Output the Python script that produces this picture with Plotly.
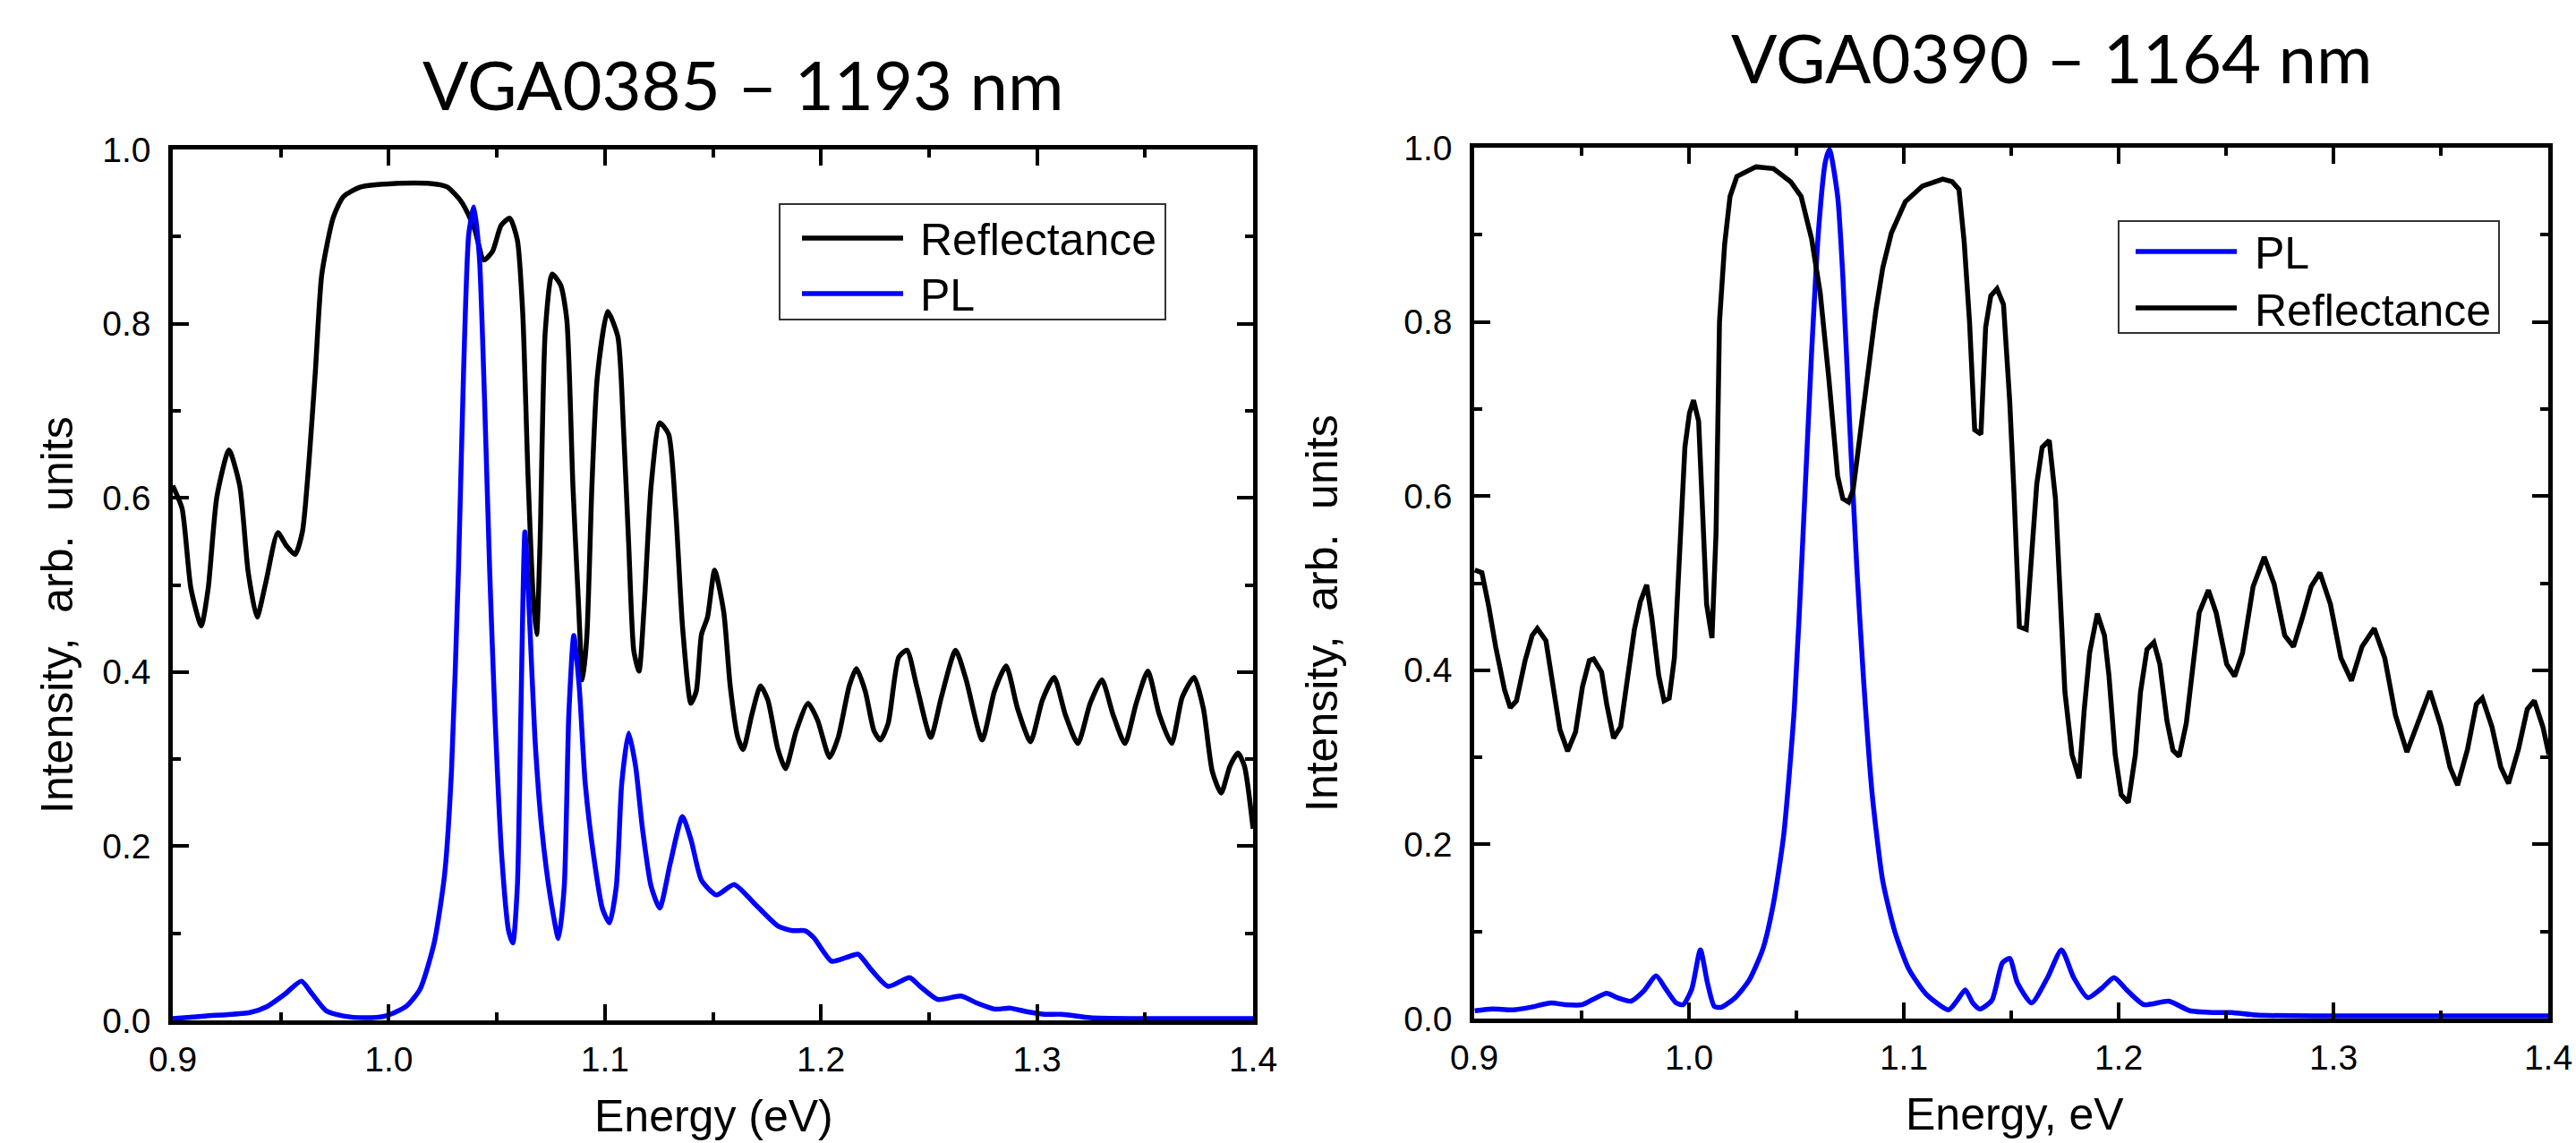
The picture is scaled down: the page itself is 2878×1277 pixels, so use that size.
import plotly.graph_objects as go

# ---------------- data ----------------
# Left panel: VGA0385
left_refl_E = [0.900, 0.9043, 0.9084, 0.9132, 0.9164, 0.9204, 0.926, 0.931, 0.9349, 0.939, 0.943, 0.9486,
               0.9526, 0.9566, 0.960, 0.963, 0.966, 0.969, 0.9743, 0.979, 0.987, 1.003, 1.019, 1.027, 1.033,
               1.038, 1.040, 1.044, 1.048, 1.052, 1.056, 1.0595, 1.062, 1.0644, 1.0669, 1.0684, 1.070, 1.0724,
               1.0756, 1.0796, 1.0824, 1.0852, 1.0877, 1.0897, 1.0917, 1.094, 1.0965, 1.1013, 1.106, 1.1086,
               1.111, 1.1134, 1.1158, 1.1182, 1.1214, 1.1254, 1.1295, 1.1327, 1.136, 1.1398, 1.1423, 1.1447,
               1.1475, 1.1508, 1.155, 1.158, 1.1615, 1.164, 1.168, 1.172, 1.1754, 1.180, 1.1836, 1.1885, 1.194,
               1.1984, 1.204, 1.208, 1.2131, 1.2164, 1.2205, 1.2246, 1.2275, 1.2311, 1.236, 1.2398, 1.2443,
               1.2508, 1.2557, 1.2623, 1.2672, 1.2746, 1.2803, 1.2857, 1.291, 1.297, 1.3025, 1.3079, 1.3131,
               1.3189, 1.3246, 1.330, 1.3352, 1.3407, 1.3459, 1.3513, 1.3566, 1.3623, 1.3672, 1.3727, 1.377,
               1.3811, 1.3852, 1.3893, 1.393, 1.396, 1.400]
left_refl_I = [0.614, 0.588, 0.496, 0.453, 0.496, 0.601, 0.655, 0.614, 0.515, 0.463, 0.502, 0.560,
               0.545, 0.535, 0.561, 0.640, 0.745, 0.857, 0.922, 0.946, 0.957, 0.961, 0.961, 0.957, 0.942,
               0.919, 0.906, 0.873, 0.883, 0.913, 0.921, 0.896, 0.811, 0.627, 0.483, 0.443, 0.548, 0.791,
               0.857, 0.844, 0.804, 0.614, 0.483, 0.391, 0.443, 0.614, 0.739, 0.814, 0.785, 0.680,
               0.548, 0.424, 0.401, 0.476, 0.614, 0.686, 0.673, 0.588, 0.450, 0.364, 0.378, 0.443,
               0.463, 0.517, 0.469, 0.384, 0.325, 0.311, 0.351, 0.384, 0.368, 0.312, 0.289, 0.332, 0.364,
               0.345, 0.302, 0.325, 0.384, 0.404, 0.378, 0.332, 0.322, 0.341, 0.417, 0.425, 0.384,
               0.325, 0.371, 0.425, 0.391, 0.322, 0.378, 0.407, 0.358, 0.320, 0.368, 0.394, 0.351,
               0.318, 0.364, 0.391, 0.351, 0.318, 0.364, 0.401, 0.351, 0.318, 0.371, 0.394, 0.358,
               0.286, 0.261, 0.292, 0.307, 0.292, 0.220]

left_pl_E = [0.900, 0.9148, 0.9357, 0.9437, 0.9518, 0.9595, 0.9646, 0.971, 0.979, 0.9888, 0.9984, 1.008,
             1.0145, 1.021, 1.0258, 1.029, 1.0322, 1.0346, 1.037, 1.0394, 1.0419, 1.0443, 1.0467, 1.0491,
             1.0523, 1.0555, 1.0574, 1.0595, 1.0611, 1.063, 1.0651, 1.0676, 1.0708, 1.0748, 1.0785, 1.0812,
             1.0833, 1.0856, 1.0881, 1.0909, 1.0949, 1.0989, 1.1021, 1.1053, 1.1078, 1.111, 1.1142, 1.1174,
             1.1214, 1.1254, 1.1303, 1.1359, 1.1399, 1.1447, 1.1516, 1.1598, 1.1689, 1.1803, 1.1869, 1.1926,
             1.1967, 1.2049, 1.2115, 1.2172, 1.223, 1.2311, 1.241, 1.2459, 1.2541, 1.2648, 1.2721, 1.2803,
             1.2877, 1.2951, 1.3033, 1.3115, 1.3246, 1.3443, 1.400]
left_pl_I = [0.002, 0.005, 0.009, 0.016, 0.030, 0.045, 0.030, 0.011, 0.005, 0.003, 0.005, 0.016,
             0.036, 0.089, 0.167, 0.286, 0.515, 0.745, 0.903, 0.934, 0.877, 0.713, 0.515, 0.351,
             0.187, 0.102, 0.089, 0.154, 0.351, 0.561, 0.463, 0.325, 0.220, 0.141, 0.094, 0.154,
             0.351, 0.442, 0.384, 0.272, 0.187, 0.128, 0.112, 0.154, 0.272, 0.330, 0.292, 0.220,
             0.154, 0.129, 0.181, 0.234, 0.207, 0.161, 0.144, 0.156, 0.135, 0.108, 0.103, 0.103,
             0.095, 0.068, 0.072, 0.076, 0.059, 0.039, 0.049, 0.039, 0.024, 0.028, 0.020, 0.013,
             0.014, 0.010, 0.007, 0.007, 0.003, 0.002, 0.002]

# Right panel: VGA0390
right_refl_E = [0.9003, 0.9036, 0.9068, 0.910, 0.9141, 0.9168, 0.9197, 0.9237, 0.927, 0.9294, 0.9334, 0.9367,
                0.9399, 0.9435, 0.9472, 0.9504, 0.9536, 0.9556, 0.9593, 0.9617, 0.9649, 0.9682, 0.9714,
                0.9746, 0.9774, 0.9803, 0.9827, 0.9859, 0.9884, 0.9908, 0.9932, 0.9956, 0.9981, 1.0002,
                1.0021, 1.0045, 1.0061, 1.0082, 1.0107, 1.0126, 1.0142, 1.0166, 1.0191, 1.0223, 1.0312,
                1.0393, 1.0473, 1.0522, 1.0571, 1.0611, 1.0651, 1.0692, 1.0716, 1.0743, 1.0764, 1.0805,
                1.0837, 1.087, 1.0902, 1.0942, 1.1007, 1.1087, 1.1181, 1.1225, 1.1257, 1.1281, 1.1306,
                1.133, 1.1359, 1.1381, 1.1405, 1.1434, 1.1464, 1.1493, 1.1513, 1.1538, 1.157, 1.1595,
                1.1619, 1.1644, 1.1677, 1.1706, 1.1726, 1.175, 1.1783, 1.1816, 1.184, 1.1865, 1.1901,
                1.1934, 1.1955, 1.1984, 1.2012, 1.2045, 1.2078, 1.2102, 1.2132, 1.2164, 1.2192, 1.2225,
                1.2253, 1.2282, 1.2315, 1.2347, 1.2375, 1.2418, 1.2454, 1.2503, 1.254, 1.2577, 1.2626,
                1.2678, 1.2724, 1.2773, 1.2814, 1.2855, 1.2896, 1.2937, 1.2986, 1.3035, 1.3084, 1.3133,
                1.319, 1.3239, 1.3289, 1.3342, 1.3395, 1.3449, 1.3501, 1.3542, 1.3578, 1.3624, 1.3665,
                1.3693, 1.3738, 1.3779, 1.3815, 1.3861, 1.3902, 1.3935, 1.3975, 1.4003]
right_refl_I = [0.515, 0.512, 0.473, 0.427, 0.378, 0.357, 0.365, 0.411, 0.440, 0.448, 0.434, 0.381,
                0.332, 0.307, 0.329, 0.381, 0.411, 0.413, 0.398, 0.361, 0.322, 0.335, 0.394,
                0.447, 0.479, 0.498, 0.460, 0.394, 0.365, 0.368, 0.414, 0.538, 0.656, 0.695,
                0.710, 0.686, 0.604, 0.476, 0.437, 0.558, 0.800, 0.889, 0.944, 0.967, 0.978,
                0.976, 0.961, 0.944, 0.895, 0.833, 0.735, 0.623, 0.597, 0.593, 0.607, 0.689,
                0.748, 0.813, 0.862, 0.902, 0.938, 0.956, 0.964, 0.961, 0.952, 0.892, 0.800,
                0.676, 0.671, 0.794, 0.830, 0.838, 0.820, 0.709, 0.604, 0.450, 0.447, 0.525,
                0.614, 0.656, 0.664, 0.597, 0.506, 0.375, 0.303, 0.276, 0.355, 0.420, 0.465,
                0.440, 0.394, 0.303, 0.257, 0.248, 0.303, 0.375, 0.424, 0.432, 0.407, 0.342,
                0.308, 0.301, 0.339, 0.407, 0.466, 0.492, 0.466, 0.407, 0.393, 0.420, 0.496,
                0.530, 0.499, 0.440, 0.427, 0.460, 0.496, 0.512, 0.476, 0.414, 0.388, 0.427,
                0.448, 0.414, 0.348, 0.306, 0.342, 0.376, 0.335, 0.289, 0.268, 0.309, 0.361,
                0.368, 0.335, 0.289, 0.270, 0.309, 0.355, 0.365, 0.335, 0.303]

right_pl_E = [0.9003, 0.9084, 0.9181, 0.9262, 0.9359, 0.9423, 0.9504, 0.9553, 0.9617, 0.9666, 0.973, 0.9787,
              0.9847, 0.9892, 0.994, 0.9973, 1.0013, 1.0053, 1.0086, 1.0118, 1.015, 1.0215, 1.028, 1.0344,
              1.0393, 1.0441, 1.049, 1.053, 1.057, 1.0603, 1.0635, 1.0654, 1.0692, 1.0716, 1.0748, 1.0781,
              1.0813, 1.0853, 1.0902, 1.0958, 1.1023, 1.1104, 1.1208, 1.1249, 1.1286, 1.1321, 1.1354, 1.141,
              1.1459, 1.1493, 1.1529, 1.1595, 1.1669, 1.1734, 1.1791, 1.1857, 1.1922, 1.1979, 1.2037,
              1.2118, 1.2233, 1.2331, 1.2446, 1.2527, 1.2642, 1.2937, 1.400]
right_pl_I = [0.009, 0.011, 0.010, 0.013, 0.018, 0.016, 0.016, 0.022, 0.029, 0.024, 0.020, 0.031,
              0.049, 0.034, 0.018, 0.016, 0.034, 0.079, 0.041, 0.014, 0.013, 0.024, 0.044, 0.080,
              0.132, 0.211, 0.355, 0.551, 0.761, 0.905, 0.984, 0.998, 0.944, 0.853, 0.682, 0.519,
              0.388, 0.257, 0.158, 0.100, 0.057, 0.028, 0.010, 0.021, 0.033, 0.018, 0.011, 0.021,
              0.064, 0.069, 0.041, 0.018, 0.047, 0.079, 0.047, 0.024, 0.035, 0.047, 0.033,
              0.016, 0.020, 0.009, 0.007, 0.007, 0.004, 0.003, 0.003]

x_tick_vals = [0.9, 1.0, 1.1, 1.2, 1.3, 1.4]
x_tick_text = ["0.9", "1.0", "1.1", "1.2", "1.3", "1.4"]
y_tick_vals = [0.0, 0.2, 0.4, 0.6, 0.8, 1.0]
y_tick_text = ["0.0", "0.2", "0.4", "0.6", "0.8", "1.0"]

titles = ["VGA0385 \u2013 1193 nm", "VGA0390 \u2013 1164 nm"]
x_titles = ["Energy (eV)", "Energy, eV"]
y_title = "Intensity,  arb.  units"

# ---------------- figure ----------------
W, H = 2878, 1277
BLUE = "#0000FF"
BLACK = "#000000"
ARIAL = "Liberation Sans, Arial, sans-serif"
TITLE_FONT = "Lato, Carlito, Calibri, sans-serif"
LW = 5.5


def px_x(p):
    return p / W


def px_y(p):
    return 1 - p / H


fig = go.Figure()

fig.add_trace(go.Scatter(x=left_refl_E, y=left_refl_I, mode="lines", name="Reflectance",
                         line=dict(color=BLACK, width=LW, shape="spline", smoothing=0.6),
                         xaxis="x", yaxis="y", showlegend=False))
fig.add_trace(go.Scatter(x=left_pl_E, y=left_pl_I, mode="lines", name="PL",
                         line=dict(color=BLUE, width=LW, shape="spline", smoothing=0.6),
                         xaxis="x", yaxis="y", showlegend=False))
fig.add_trace(go.Scatter(x=right_pl_E, y=right_pl_I, mode="lines", name="PL",
                         line=dict(color=BLUE, width=LW, shape="spline", smoothing=0.6),
                         xaxis="x2", yaxis="y2", showlegend=False))
fig.add_trace(go.Scatter(x=right_refl_E, y=right_refl_I, mode="lines", name="Reflectance",
                         line=dict(color=BLACK, width=LW),
                         xaxis="x2", yaxis="y2", showlegend=False))


def xaxis_cfg(domain, anchor):
    return dict(domain=domain, anchor=anchor, range=[0.9, 1.4], automargin=False,
                tickmode="array", tickvals=x_tick_vals, ticktext=x_tick_text,
                ticks="inside", ticklen=18, tickwidth=4, tickcolor=BLACK,
                minor=dict(dtick=0.05, tick0=0.9, ticks="inside", ticklen=9, tickwidth=4, tickcolor=BLACK),
                showline=True, linewidth=4.5, linecolor=BLACK, mirror="ticks",
                showgrid=False, zeroline=False, ticklabelstandoff=5, ticklabeloverflow="allow",
                tickfont=dict(family=ARIAL, size=39, color=BLACK))


def yaxis_cfg(domain, anchor):
    return dict(domain=domain, anchor=anchor, range=[0, 1], automargin=False,
                tickmode="array", tickvals=y_tick_vals, ticktext=y_tick_text,
                ticks="inside", ticklen=18, tickwidth=4, tickcolor=BLACK,
                minor=dict(dtick=0.1, tick0=0, ticks="inside", ticklen=9, tickwidth=4, tickcolor=BLACK),
                showline=True, linewidth=4.5, linecolor=BLACK, mirror="ticks",
                showgrid=False, zeroline=False, ticklabelstandoff=12, ticklabeloverflow="allow",
                tickfont=dict(family=ARIAL, size=39, color=BLACK))


fig.update_layout(
    template="none",
    width=W, height=H, autosize=False,
    margin=dict(l=0, r=0, t=0, b=0, pad=0),
    paper_bgcolor="white", plot_bgcolor="white",
    showlegend=False,
    xaxis=xaxis_cfg([px_x(193), px_x(1400)], "y"),
    yaxis=yaxis_cfg([px_y(1140), px_y(167)], "x"),
    xaxis2=xaxis_cfg([px_x(1647), px_x(2847)], "y2"),
    yaxis2=yaxis_cfg([px_y(1138), px_y(165)], "x2"),
)

annotations = []
# panel titles
annotations.append(dict(text=titles[0], x=px_x(830), y=px_y(93), xref="paper", yref="paper",
                        xanchor="center", yanchor="middle", showarrow=False,
                        font=dict(family=TITLE_FONT, size=76, color=BLACK)))
annotations.append(dict(text=titles[1], x=px_x(2292), y=px_y(64), xref="paper", yref="paper",
                        xanchor="center", yanchor="middle", showarrow=False,
                        font=dict(family=TITLE_FONT, size=76, color=BLACK)))
# axis titles
annotations.append(dict(text=x_titles[0], x=px_x(797), y=px_y(1247), xref="paper", yref="paper",
                        xanchor="center", yanchor="middle", showarrow=False,
                        font=dict(family=ARIAL, size=50, color=BLACK)))
annotations.append(dict(text=x_titles[1], x=px_x(2251), y=px_y(1245), xref="paper", yref="paper",
                        xanchor="center", yanchor="middle", showarrow=False,
                        font=dict(family=ARIAL, size=50, color=BLACK)))
annotations.append(dict(text=y_title, x=px_x(64), y=px_y(687), xref="paper", yref="paper",
                        xanchor="center", yanchor="middle", showarrow=False, textangle=-90,
                        font=dict(family=ARIAL, size=50, color=BLACK)))
annotations.append(dict(text=y_title, x=px_x(1477), y=px_y(685), xref="paper", yref="paper",
                        xanchor="center", yanchor="middle", showarrow=False, textangle=-90,
                        font=dict(family=ARIAL, size=50, color=BLACK)))

# legends (drawn as boxes with sample lines and labels)
shapes = []
legends = [
    dict(box=(871, 228, 1302, 357), line_x=(896, 1009), text_x=1026,
         items=[("Reflectance", BLACK, 266, 268), ("PL", BLUE, 328, 330)]),
    dict(box=(2367, 247, 2792, 372), line_x=(2386, 2499), text_x=2517,
         items=[("PL", BLUE, 281, 283), ("Reflectance", BLACK, 344, 347)]),
]
for lg in legends:
    x0, y0, x1, y1 = lg["box"]
    shapes.append(dict(type="rect", xref="paper", yref="paper",
                       x0=px_x(x0), x1=px_x(x1), y0=px_y(y1), y1=px_y(y0),
                       line=dict(color="#333333", width=2), fillcolor="white", layer="above"))
    for label, col, ly, ty in lg["items"]:
        shapes.append(dict(type="line", xref="paper", yref="paper",
                           x0=px_x(lg["line_x"][0]), x1=px_x(lg["line_x"][1]),
                           y0=px_y(ly), y1=px_y(ly), line=dict(color=col, width=LW), layer="above"))
        annotations.append(dict(text=label, x=px_x(lg["text_x"]), y=px_y(ty), xref="paper", yref="paper",
                                xanchor="left", yanchor="middle", showarrow=False,
                                font=dict(family=ARIAL, size=50, color=BLACK)))

fig.update_layout(annotations=annotations, shapes=shapes)

fig.write_html("out.html")
